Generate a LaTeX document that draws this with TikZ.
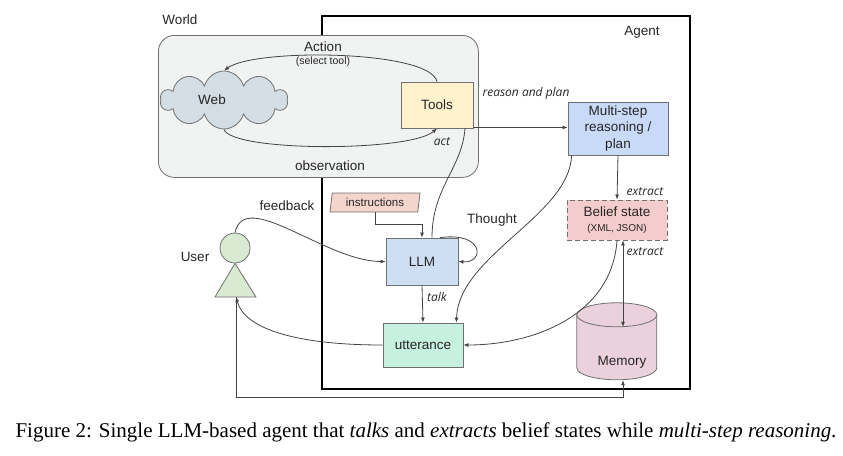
\documentclass[tikz,border=0pt]{standalone}
\usepackage{fontspec}
\setmainfont{Liberation Sans}
\newfontfamily\capfont{Liberation Serif}
\newfontfamily\edgefont{Open Sans}
\usetikzlibrary{positioning, arrows.meta, shapes.geometric, shapes.symbols, calc}
\definecolor{textcol}{HTML}{262626}
\definecolor{linecol}{HTML}{444444}
\definecolor{bordercol}{HTML}{707070}
\definecolor{worldcol}{HTML}{F1F2F2}
\definecolor{webcol}{HTML}{D3DDE3}
\definecolor{toolscol}{HTML}{FFF2CC}
\definecolor{plancol}{HTML}{C9DAF8}
\definecolor{llmcol}{HTML}{CFDFF3}
\definecolor{beliefcol}{HTML}{F4CCCC}
\definecolor{instrcol}{HTML}{F4D5CC}
\definecolor{usercol}{HTML}{D9EAD3}
\definecolor{uttercol}{HTML}{C6F0E0}
\definecolor{memcol}{HTML}{EAD1DC}
\tikzset{
	>={Latex[length=5pt,width=4pt]}, % small filled arrow heads
	every node/.style={font=\fontsize{13.5}{16.5}\selectfont, text=textcol}, % main text size
	box/.style={draw=bordercol, line width=0.8pt, align=center, inner sep=2pt}, % plain boxes
	conn/.style={draw=linecol, line width=0.8pt}, % connectors
	edgelabel/.style={font=\edgefont\itshape\fontsize{12}{14}\selectfont}, % italic labels on the edges
	smalltext/.style={font=\fontsize{10.5}{12}\selectfont}, % bracketed notes
}

\begin{document}
\begin{tikzpicture}[x=1pt, y=-1pt]
		\useasboundingbox (0,0) rectangle (843,455);

		\node[draw=black, line width=1.6pt, anchor=north west, minimum width=368, minimum height=373] (agent_frame) at (321,15) {};
		\node (agent_label) at (642,32) {Agent};
		\node[draw=bordercol, line width=0.8pt, fill=worldcol, rounded corners=16pt, anchor=north west, minimum width=320, minimum height=142] (world_frame) at (158,35) {};
		\node (world_label) at (180,20) {World};

		\node[cloud, cloud puffs=10, aspect=2.3, draw=bordercol, line width=0.8pt, fill=webcol, minimum width=127, minimum height=58, label={[xshift=-12pt]center:Web}] (web) at (224,100) {};
		\node[box, fill=toolscol, minimum width=72, minimum height=46] (tools) at (437,105) {Tools};
		\node[box, fill=plancol, minimum width=100, minimum height=53] (plan) at (618,128.5) {Multi-step\\reasoning /\\plan};
		\node[box, dashed, dash pattern=on 5pt off 3pt, fill=beliefcol, minimum width=100, minimum height=40] (belief) at (617,220) {Belief state\\[-2pt]{\fontsize{10}{12}\selectfont (XML, JSON)}};
		\node[trapezium, trapezium left angle=78, trapezium right angle=102, trapezium stretches body, draw=bordercol, line width=0.8pt, fill=instrcol, minimum width=90, minimum height=19, inner sep=1pt, font=\fontsize{11.5}{13}\selectfont] (instr) at (375,202.5) {instructions};
		\node[box, fill=llmcol, minimum width=72, minimum height=47] (llm) at (422,261.5) {LLM};
		\node[box, fill=uttercol, minimum width=80, minimum height=44] (utter) at (423,345) {utterance};
		\node[minimum width=80, minimum height=77, inner sep=0pt] (memory) at (617,341.5) {};
		\filldraw[draw=bordercol, line width=0.8pt, fill=memcol] (memory.north west) ++(0,12) -- ++(0,53) arc[start angle=180, end angle=360, x radius=40pt, y radius=12pt] -- ++(0,-53) arc[start angle=0, end angle=180, x radius=40pt, y radius=12pt] -- cycle;
		\draw[draw=bordercol, line width=0.8pt] (memory.north west) ++(0,12) arc[start angle=180, end angle=360, x radius=40pt, y radius=12pt];
		\node (memory_text) at (622,362) {Memory};

		\node[circle, draw=bordercol, line width=0.8pt, fill=usercol, minimum size=30, inner sep=0pt] (user_head) at (235,248) {};
		\coordinate (user_base) at (236,297);
		\filldraw[draw=bordercol, line width=0.8pt, fill=usercol] (user_head.south) -- (215,297) -- (256,297) -- cycle;
		\node (user_label) at (195,257) {User};

		\node (action_label) at (323,47) {Action};
		\node[smalltext] (select_label) at (323,62) {(select tool)};
		\node (obs_label) at (330,166) {observation};
		\node[edgelabel] (act_label) at (442,142) {act};
		\node[edgelabel] (reason_label) at (526,93) {reason and plan};
		\node[edgelabel] (extract_top) at (645,192) {extract};
		\node[edgelabel] (extract_bottom) at (645,252) {extract};
		\node[edgelabel] (talk_label) at (437,297) {talk};
		\node (thought_label) at (492,220) {Thought};
		\node (feedback_label) at (287,206) {feedback};

		\coordinate (mem_in) at ($(memory.north)+(6,24)$);

		\draw[conn,->] (tools.north) .. controls (430,50) and (255,48) .. (web.north);
		\draw[conn,->] (web.south) .. controls (232,152) and (410,152) .. (tools.south);
		\draw[conn,->] ([yshift=1pt]tools.south east) -- ([yshift=1pt]plan.west |- tools.south east);
		\draw[conn,->] (plan.south) -- (belief.north);
		\draw[conn,<->] ([xshift=6pt]belief.south) -- (mem_in);
		\draw[conn,->] ([xshift=4pt]plan.south west) .. controls +(-2,60) and +(2,-67) .. ([xshift=-7pt]utter.north east);
		\draw[conn,->] (belief.south) .. controls +(-5,75) and +(70,0) .. (utter.east);
		\draw[conn] ([xshift=28pt]tools.south) .. controls +(-3,40) and +(0,-50) .. ([xshift=10pt]llm.north);
		\draw[conn,->] (instr.south) -- ++(0,12) -| (llm.north);
		\draw[conn,->] ([xshift=18pt]llm.north) .. controls +(45,-6) and +(26,2) .. (llm.east);
		\draw[conn,->] (llm.south) -- (utter.north);
		\draw[conn,->] (user_head.north) .. controls +(10,-45) and +(-60,0) .. (llm.west);
		\draw[conn,->] (utter.west) .. controls +(-83,0) and +(9,33) .. (user_base);
		\draw[conn,->] (user_base) -- ++(0,100) -| ([xshift=6pt]memory.south);

		\node[anchor=west, font=\capfont\fontsize{21}{24}\selectfont, text=black] (caption) at (12,432) {Figure 2: Single LLM-based agent that \textit{talks} and \textit{extracts} belief states while \textit{multi-step reasoning}.};
	\end{tikzpicture}
\end{document}
